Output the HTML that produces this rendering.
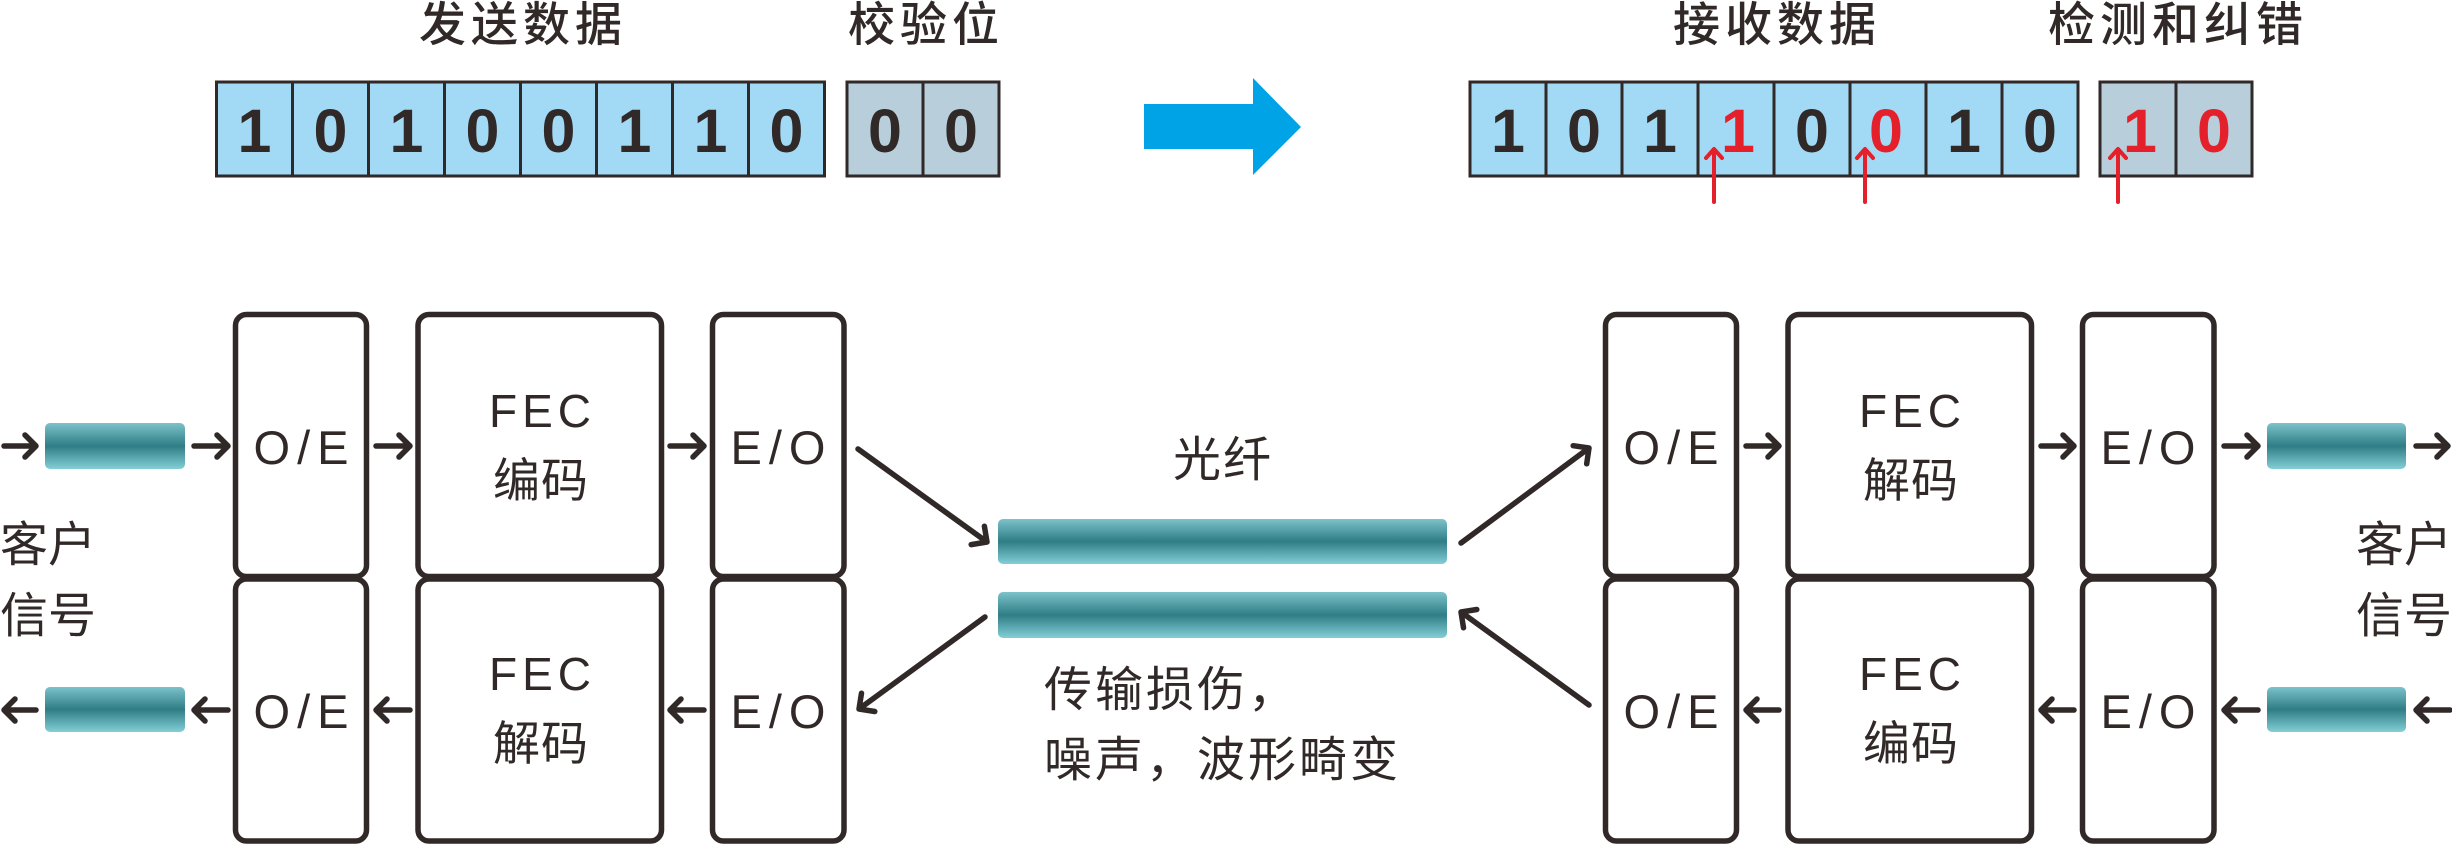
<!DOCTYPE html>
<html>
<head>
<meta charset="utf-8">
<style>
html,body{margin:0;padding:0;background:#fff;}
svg{display:block;}
.t{font-family:"Liberation Sans","Noto Sans CJK SC",sans-serif;fill:#302927;}
.c{font-family:"Liberation Sans","Noto Sans CJK SC",sans-serif;fill:#302927;}
</style>
</head>
<body>
<svg width="2452" height="846" viewBox="0 0 2452 846" xmlns="http://www.w3.org/2000/svg">
<defs>
<linearGradient id="fib" x1="0" y1="0" x2="0" y2="1">
<stop offset="0" stop-color="#7cc2cb"/>
<stop offset="0.5" stop-color="#2f7d85"/>
<stop offset="1" stop-color="#84cfd7"/>
</linearGradient>
</defs>

<!-- ===== Titles ===== -->
<g class="c" font-size="47" font-weight="500" letter-spacing="5" text-anchor="middle">
<text x="523" y="41">发送数据</text>
<text x="926" y="41">校验位</text>
<text x="1777" y="41">接收数据</text>
<text x="2178" y="41">检测和纠错</text>
</g>

<!-- ===== Left data cells ===== -->
<g stroke="#302927" stroke-width="3">
<rect x="216.5" y="82" width="76" height="94" fill="#a2d9f4"/>
<rect x="292.5" y="82" width="76" height="94" fill="#a2d9f4"/>
<rect x="368.5" y="82" width="76" height="94" fill="#a2d9f4"/>
<rect x="444.5" y="82" width="76" height="94" fill="#a2d9f4"/>
<rect x="520.5" y="82" width="76" height="94" fill="#a2d9f4"/>
<rect x="596.5" y="82" width="76" height="94" fill="#a2d9f4"/>
<rect x="672.5" y="82" width="76" height="94" fill="#a2d9f4"/>
<rect x="748.5" y="82" width="76" height="94" fill="#a2d9f4"/>
<rect x="847" y="82" width="76" height="94" fill="#b8cedb"/>
<rect x="923" y="82" width="76" height="94" fill="#b8cedb"/>
</g>
<g class="t" font-size="61" font-weight="700" text-anchor="middle">
<text x="254.5" y="152">1</text>
<text x="330.5" y="152">0</text>
<text x="406.5" y="152">1</text>
<text x="482.5" y="152">0</text>
<text x="558.5" y="152">0</text>
<text x="634.5" y="152">1</text>
<text x="710.5" y="152">1</text>
<text x="786.5" y="152">0</text>
<text x="885" y="152">0</text>
<text x="961" y="152">0</text>
</g>

<!-- ===== Blue arrow ===== -->
<polygon points="1144,104 1253,104 1253,78 1301,127 1253,175 1253,149 1144,149" fill="#00a3e6"/>

<!-- ===== Right data cells ===== -->
<g stroke="#302927" stroke-width="3">
<rect x="1470" y="82" width="76" height="94" fill="#a2d9f4"/>
<rect x="1546" y="82" width="76" height="94" fill="#a2d9f4"/>
<rect x="1622" y="82" width="76" height="94" fill="#a2d9f4"/>
<rect x="1698" y="82" width="76" height="94" fill="#a2d9f4"/>
<rect x="1774" y="82" width="76" height="94" fill="#a2d9f4"/>
<rect x="1850" y="82" width="76" height="94" fill="#a2d9f4"/>
<rect x="1926" y="82" width="76" height="94" fill="#a2d9f4"/>
<rect x="2002" y="82" width="76" height="94" fill="#a2d9f4"/>
<rect x="2100" y="82" width="76" height="94" fill="#b8cedb"/>
<rect x="2176" y="82" width="76" height="94" fill="#b8cedb"/>
</g>
<g class="t" font-size="61" font-weight="700" text-anchor="middle">
<text x="1508" y="152">1</text>
<text x="1584" y="152">0</text>
<text x="1660" y="152">1</text>
<text x="1738" y="152" fill="#e4202b">1</text>
<text x="1812" y="152">0</text>
<text x="1886" y="152" fill="#e4202b">0</text>
<text x="1964" y="152">1</text>
<text x="2040" y="152">0</text>
<text x="2140" y="152" fill="#e4202b">1</text>
<text x="2214" y="152" fill="#e4202b">0</text>
</g>

<!-- red arrows -->
<g stroke="#e4202b" stroke-width="4" fill="none" stroke-linecap="round" stroke-linejoin="round">
<path d="M1714,202 L1714,150 M1706,158 L1714,149 L1722,158"/>
<path d="M1865,202 L1865,150 M1857,158 L1865,149 L1873,158"/>
<path d="M2118,202 L2118,150 M2110,158 L2118,149 L2126,158"/>
</g>

<!-- ===== Bottom boxes ===== -->
<g fill="none" stroke="#302927" stroke-width="5.5">
<!-- left -->
<rect x="235.5" y="314.5" width="131" height="262" rx="11"/>
<rect x="235.5" y="579" width="131" height="262" rx="11"/>
<rect x="418" y="314.5" width="243.5" height="262" rx="11"/>
<rect x="418" y="579" width="243.5" height="262" rx="11"/>
<rect x="712.5" y="314.5" width="131.5" height="262" rx="11"/>
<rect x="712.5" y="579" width="131.5" height="262" rx="11"/>
<!-- right -->
<rect x="1605.5" y="314.5" width="131" height="262" rx="11"/>
<rect x="1605.5" y="579" width="131" height="262" rx="11"/>
<rect x="1788" y="314.5" width="243.5" height="262" rx="11"/>
<rect x="1788" y="579" width="243.5" height="262" rx="11"/>
<rect x="2082.5" y="314.5" width="131.5" height="262" rx="11"/>
<rect x="2082.5" y="579" width="131.5" height="262" rx="11"/>
</g>

<!-- box labels -->
<g class="t" font-size="47" letter-spacing="7" text-anchor="middle">
<text x="304.5" y="464">O/E</text>
<text x="304.5" y="728">O/E</text>
<text x="781.5" y="464">E/O</text>
<text x="781.5" y="728">E/O</text>
<text x="1674.5" y="464">O/E</text>
<text x="1674.5" y="728">O/E</text>
<text x="2151.5" y="464">E/O</text>
<text x="2151.5" y="728">E/O</text>
</g>
<g class="t" font-size="46" letter-spacing="5" text-anchor="middle">
<text x="542.5" y="427">FEC</text>
<text x="542.5" y="690">FEC</text>
<text x="1912.5" y="427">FEC</text>
<text x="1912.5" y="690">FEC</text>
</g>
<g class="c" font-size="47" letter-spacing="1" text-anchor="middle">
<text x="541" y="497">编码</text>
<text x="541" y="760">解码</text>
<text x="1911" y="497">解码</text>
<text x="1911" y="760">编码</text>
</g>

<!-- ===== Fibers ===== -->
<g fill="url(#fib)">
<rect x="45" y="423" width="140" height="46" rx="5"/>
<rect x="45" y="687" width="140" height="45" rx="5"/>
<rect x="998" y="519" width="449" height="45" rx="5"/>
<rect x="998" y="592" width="449" height="46" rx="5"/>
<rect x="2267" y="423" width="139" height="46" rx="5"/>
<rect x="2267" y="687" width="139" height="45" rx="5"/>
</g>

<!-- ===== Small horizontal arrows ===== -->
<g stroke="#302927" stroke-width="5.5" fill="none" stroke-linecap="round" stroke-linejoin="round">
<!-- top row, rightwards, y=446 -->
<path d="M4,446 H36 M25,435 L36,446 L25,457"/>
<path d="M194,446 H228 M217,435 L228,446 L217,457"/>
<path d="M376,446 H410 M399,435 L410,446 L399,457"/>
<path d="M670,446 H704 M693,435 L704,446 L693,457"/>
<path d="M1746,446 H1779 M1768,435 L1779,446 L1768,457"/>
<path d="M2041,446 H2074 M2063,435 L2074,446 L2063,457"/>
<path d="M2224,446 H2258 M2247,435 L2258,446 L2247,457"/>
<path d="M2416,446 H2448 M2437,435 L2448,446 L2437,457"/>
<!-- bottom row, leftwards, y=710 -->
<path d="M36,710 H4 M15,699 L4,710 L15,721"/>
<path d="M228,710 H194 M205,699 L194,710 L205,721"/>
<path d="M410,710 H376 M387,699 L376,710 L387,721"/>
<path d="M704,710 H670 M681,699 L670,710 L681,721"/>
<path d="M1779,710 H1746 M1757,699 L1746,710 L1757,721"/>
<path d="M2074,710 H2041 M2052,699 L2041,710 L2052,721"/>
<path d="M2258,710 H2224 M2235,699 L2224,710 L2235,721"/>
<path d="M2450,710 H2416 M2427,699 L2416,710 L2427,721"/>
</g>

<!-- ===== Diagonal arrows ===== -->
<g stroke="#302927" stroke-width="5.5" fill="none" stroke-linecap="round" stroke-linejoin="round">
<path d="M858,449 L987,542 M984.4,526.2 L987,542 L971.2,544.6"/>
<path d="M985,617 L859,709 M874.8,711.5 L859,709 L861.5,693.2"/>
<path d="M1461,543 L1589,448 M1573.2,445.7 L1589,448 L1586.7,463.8"/>
<path d="M1589,705 L1461,612 M1463.5,627.8 L1461,612 L1476.8,609.5"/>
</g>

<!-- ===== Text labels ===== -->
<g class="c" font-size="48">
<text x="0" y="561">客户</text>
<text x="0" y="632">信号</text>
<text x="2356" y="561">客户</text>
<text x="2356" y="632">信号</text>
<text x="1173" y="476" letter-spacing="2">光纤</text>
<text x="1044" y="706" letter-spacing="3">传输损伤，</text>
<text x="1044" y="776" letter-spacing="3">噪声，波形畸变</text>
</g>
</svg>
</body>
</html>
